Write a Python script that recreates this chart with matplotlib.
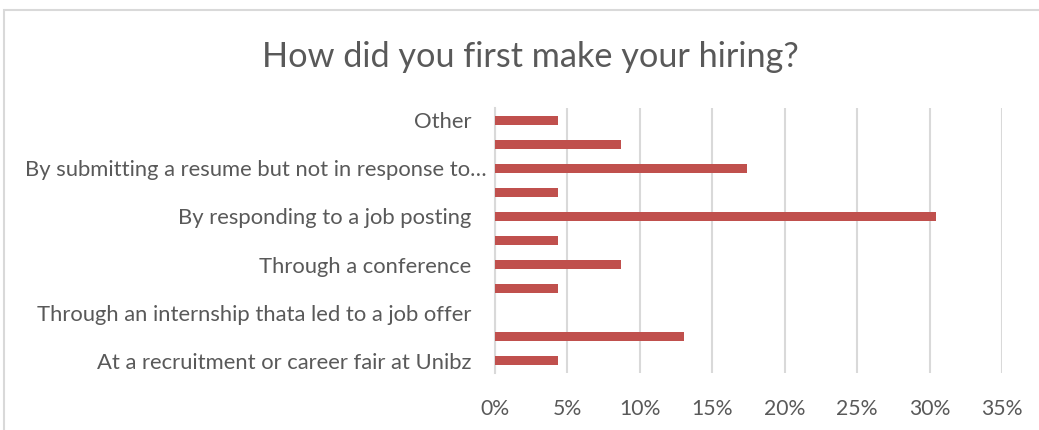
import matplotlib
matplotlib.use("Agg")
import matplotlib.pyplot as plt
import matplotlib.transforms as mtransforms
from matplotlib.ticker import FuncFormatter
from matplotlib.patches import Rectangle

# Survey answers, listed bottom to top (every other label is shown on the axis)
categories = [
    "At a recruitment or career fair at Unibz",
    "",
    "Through an internship thata led to a job offer",
    "",
    "Through a conference",
    "",
    "By responding to a job posting",
    "",
    "By submitting a resume but not in response to…",
    "",
    "Other",
]
shares = [4.35, 13.04, 0.0, 4.35, 8.70, 4.35, 30.43, 4.35, 17.39, 8.70, 4.35]
x_ticks = [0, 5, 10, 15, 20, 25, 30, 35]
title = "How did you first make your hiring?"

BAR = "#C0504D"
TEXT = "#595959"
GRID = "#D9D9D9"

plt.rcParams["font.family"] = ["Lato", "DejaVu Sans"]

fig = plt.figure(figsize=(10.39, 4.30), dpi=100)
fig.patch.set_facecolor("white")

# chart frame
fig.add_artist(Rectangle((3.5 / 1039, -0.05), 1.2, 1 - 9.5 / 430 + 0.05,
                         transform=fig.transFigure, fill=False,
                         edgecolor=GRID, linewidth=1.5))

ax = fig.add_axes([495 / 1039, 1 - 373 / 430, (1002 - 495) / 1039, (373 - 108) / 430])

pos = list(range(len(categories)))
ax.barh(pos, shares, height=0.37, color=BAR, zorder=3)

ax.set_xlim(0, 35)
ax.set_ylim(-0.5, len(categories) - 0.5)
ax.set_xticks(x_ticks)
ax.xaxis.set_major_formatter(FuncFormatter(lambda v, p: f"{v:.0f}%"))
ax.set_yticks(pos)
ax.set_yticklabels(categories)

ax.grid(axis="x", color=GRID, linewidth=1.5, zorder=0)
ax.set_axisbelow(True)
for side in ("top", "right", "bottom"):
    ax.spines[side].set_visible(False)
ax.spines["left"].set_color(GRID)
ax.spines["left"].set_linewidth(1.5)

ax.tick_params(axis="y", length=0, colors=TEXT, labelsize=15.8, pad=17)
ax.tick_params(axis="x", length=0, colors=TEXT, labelsize=15.2, pad=19)

# truncated label: the ellipsis hangs past the common right edge
shift = mtransforms.ScaledTranslation(15 / 100, 0, fig.dpi_scale_trans)
for lbl in ax.get_yticklabels():
    if lbl.get_text().endswith("…"):
        lbl.set_transform(lbl.get_transform() + shift)

fig.text(530 / 1039, 1 - 57 / 430, title, ha="center", va="center",
         fontsize=24.7, color=TEXT)

fig.savefig("out.png", dpi=100, facecolor="white")
